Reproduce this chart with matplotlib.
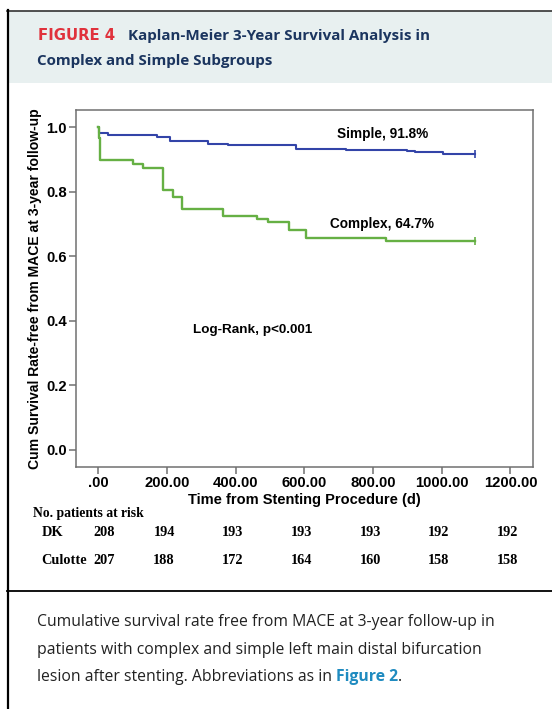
import matplotlib
matplotlib.use("Agg")
import matplotlib.pyplot as plt
import matplotlib.ticker as ticker
from matplotlib.patches import Rectangle
from matplotlib.lines import Line2D

# survival curves (days, cumulative survival)
simple_t = [0, 2, 27, 169, 208, 320, 378, 575, 720, 898, 922, 1004, 1097]
simple_s = [1.0, 0.981, 0.977, 0.970, 0.957, 0.948, 0.944, 0.934, 0.930, 0.927, 0.923, 0.918, 0.918]
complex_t = [0, 1, 3, 5, 101, 131, 189, 218, 244, 364, 461, 495, 556, 604, 837, 1097]
complex_s = [1.0, 0.966, 0.932, 0.899, 0.887, 0.875, 0.807, 0.784, 0.748, 0.725, 0.716, 0.706, 0.683, 0.657, 0.647, 0.647]

risk_times = [0, 200, 400, 600, 800, 1000, 1200]
risk_dk = [208, 194, 193, 193, 193, 192, 192]
risk_culotte = [207, 188, 172, 164, 160, 158, 158]

W, H = 552, 709
BLUE = "#3344a8"
GREEN = "#66b044"
NAVY = "#1b355f"
RED = "#e0323c"


def fx(x):
    return x / W


def fy(y):
    return 1 - y / H


fig = plt.figure(figsize=(W / 100, H / 100), dpi=100)

# header band and frame
fig.patches.append(Rectangle((fx(8), fy(83)), 1, fy(11) - fy(83), transform=fig.transFigure,
                             facecolor="#e8f0f0", edgecolor="none", zorder=0))
fig.add_artist(Line2D([fx(7), 1], [fy(10.5), fy(10.5)], color="#333333", lw=1.2))
fig.add_artist(Line2D([fx(7.5), fx(7.5)], [0, fy(10)], color="black", lw=1.6))
fig.add_artist(Line2D([fx(7), 1], [fy(591), fy(591)], color="black", lw=1.3))

fig.text(fx(38), fy(36), "FIGURE 4", color=RED, fontsize=10.7, fontweight="bold",
         family="DejaVu Sans", va="center", ha="left")
fig.text(fx(128), fy(36), "Kaplan-Meier 3-Year Survival Analysis in", color=NAVY,
         fontsize=10.9, fontweight="bold", family="Open Sans", va="center", ha="left")
fig.text(fx(37), fy(61), "Complex and Simple Subgroups", color=NAVY,
         fontsize=10.9, fontweight="bold", family="Open Sans", va="center", ha="left")

# Kaplan-Meier plot
ax = fig.add_axes([fx(75.7), fy(467), fx(533) - fx(75.7), fy(110) - fy(467)])
ax.step(simple_t, simple_s, where="post", color=BLUE, lw=1.5)
ax.step(complex_t, complex_s, where="post", color=GREEN, lw=1.7)
ax.plot(simple_t[-1], simple_s[-1], marker="|", color=BLUE, ms=6, mew=1.2)
ax.plot(complex_t[-1], complex_s[-1], marker="|", color=GREEN, ms=6, mew=1.2)

ax.set_xlim(-66.4, 1265.6)
ax.set_ylim(-0.0533, 1.0536)
ax.set_xticks(risk_times)
ax.set_yticks([0.0, 0.2, 0.4, 0.6, 0.8, 1.0])
ax.xaxis.set_major_formatter(ticker.FuncFormatter(lambda v, _: ".00" if v == 0 else f"{v:.2f}"))
ax.yaxis.set_major_formatter(ticker.FuncFormatter(lambda v, _: f"{v:.1f}"))
for sp in ax.spines.values():
    sp.set_color("#707070")
    sp.set_linewidth(1.1)
ax.tick_params(direction="out", length=5, width=1.1, color="#707070", pad=1.5)
for lab in ax.get_xticklabels() + ax.get_yticklabels():
    lab.set_family("Liberation Sans")
    lab.set_fontweight("bold")
    lab.set_fontsize(10.7)

ax.set_xlabel("Time from Stenting Procedure (d)", family="Liberation Sans",
              fontweight="bold", fontsize=10.5, labelpad=2)
ax.set_ylabel("Cum Survival Rate-free from MACE at 3-year follow-up", family="Liberation Sans",
              fontweight="bold", fontsize=10.1, labelpad=3)

ax.text(829, 0.979, "Simple, 91.8%", ha="center", va="center", family="Liberation Sans",
        fontweight="bold", fontsize=9.8)
ax.text(825, 0.699, "Complex, 64.7%", ha="center", va="center", family="Liberation Sans",
        fontweight="bold", fontsize=9.8)
ax.text(276, 0.372, "Log-Rank, p<0.001", ha="left", va="center", family="Liberation Sans",
        fontweight="bold", fontsize=9.7)

# numbers at risk
tr = ax.get_xaxis_transform()


def ay(y):
    # figure pixel row -> axes fraction
    return (fy(y) - fy(467)) / (fy(110) - fy(467))


serif = dict(family="Liberation Serif", fontweight="bold")
fig.text(fx(33), fy(514), "No. patients at risk", ha="left", va="center", fontsize=9.8, **serif)
fig.text(fx(42), fy(532), "DK", ha="left", va="center", fontsize=10.3, **serif)
fig.text(fx(41), fy(560), "Culotte", ha="left", va="center", fontsize=10.3, **serif)
for i, (t, a, b) in enumerate(zip(risk_times, risk_dk, risk_culotte)):
    tx = t + (16 if i == 0 else -9)
    ax.text(tx, ay(532), str(a), transform=tr, ha="center", va="center", fontsize=10.3,
            clip_on=False, **serif)
    ax.text(tx, ay(560), str(b), transform=tr, ha="center", va="center", fontsize=10.3,
            clip_on=False, **serif)

# caption
cap = dict(family="Open Sans", fontsize=11.3, color="#222222", va="center", ha="left")
fig.text(fx(37), fy(622), "Cumulative survival rate free from MACE at 3-year follow-up in", **cap)
fig.text(fx(37), fy(650), "patients with complex and simple left main distal bifurcation", **cap)
t3 = fig.text(fx(37), fy(677), "lesion after stenting. Abbreviations as in ", **cap)
r = fig.canvas.get_renderer()
x3 = t3.get_window_extent(r).x1
t4 = fig.text(x3 / W, fy(677), "Figure 2", family="Open Sans", fontsize=11.3, fontweight="bold",
              color="#1f8bc0", va="center", ha="left")
x4 = t4.get_window_extent(r).x1
fig.text(x4 / W, fy(677), ".", **cap)

fig.savefig("out.png", dpi=100)
